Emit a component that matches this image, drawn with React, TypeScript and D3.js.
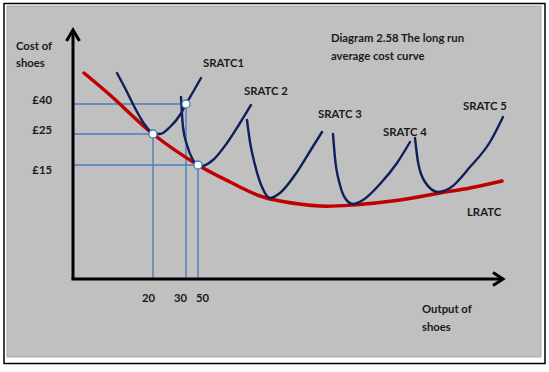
import React from "react";
import * as d3 from "d3";

// Schematic data (output units on x, cost units on y)
const lratcX = [2.2, 7.4, 16, 25, 31.4, 37.4, 41.4, 49.4, 56, 65.4, 73.4, 79.4, 85.8];
const lratcY = [82.4, 73.6, 58, 45.6, 38.8, 33.2, 31.2, 29.2, 29.6, 31.6, 34.4, 36.4, 39.2];

const sratc1X = [8.8, 10.6, 12.4, 14.4, 16, 17.4, 19.4, 21.4, 22.6, 24, 25.6];
const sratc1Y = [82.4, 75.6, 68.4, 61.6, 58.2, 58, 60.8, 65.6, 70, 74.8, 80.4];
const sratc2X = [21.6, 22, 22.8, 24, 25.4, 28, 30.8, 33.4, 35.6];
const sratc2Y = [72.8, 60.8, 53.6, 47.6, 45, 47.6, 54.4, 62.4, 69.6];
const sratc3X = [34.8, 35.4, 36.4, 37.8, 39.4, 41.4, 44.8, 47.8, 49.8];
const sratc3Y = [63.6, 54.8, 45.6, 36.8, 32.4, 34.4, 42.8, 52.4, 58.8];
const sratc4X = [52, 52.4, 53.4, 54.4, 56, 58, 61.4, 64.8, 67.4];
const sratc4Y = [58, 48.4, 37.6, 32.4, 30, 31.6, 38, 46.4, 54.8];
const sratc5X = [68.4, 69, 70.4, 73, 75.4, 79.4, 83.4, 86];
const sratc5Y = [56.4, 46.8, 38.8, 34.8, 36.4, 44.8, 54.8, 64.8];

// guide points
const pointX = [16, 22.6, 25];
const pointY = [58, 70, 45.6];
const xTickLabels = ["20", "30", "50"];
const yTickLabels = ["£25", "£40", "£15"];

const sratcLabels = ["SRATC1", "SRATC 2", "SRATC 3", "SRATC 4", "SRATC 5"];

const W = 549;
const H = 372;
const FONT = "Lato, 'Open Sans', sans-serif";

export default function App() {
  const x = d3.scaleLinear().domain([0, 86]).range([73, 503]);
  const y = d3.scaleLinear().domain([0, 100]).range([279, 29]);

  const smooth = d3
    .line<[number, number]>()
    .x((d) => x(d[0]))
    .y((d) => y(d[1]))
    .curve(d3.curveMonotoneX);
  const lrLine = d3
    .line<[number, number]>()
    .x((d) => x(d[0]))
    .y((d) => y(d[1]))
    .curve(d3.curveCatmullRom.alpha(0.5));

  const zip = (xs: number[], ys: number[]) => xs.map((v, i) => [v, ys[i]] as [number, number]);
  const srs = [
    zip(sratc1X, sratc1Y),
    zip(sratc2X, sratc2Y),
    zip(sratc3X, sratc3Y),
    zip(sratc4X, sratc4Y),
    zip(sratc5X, sratc5Y),
  ];
  const lratc = zip(lratcX, lratcY);

  const x0 = x(0);
  const y0 = y(0);
  const blue = "#4a7ebb";
  const navy = "#0e1f5b";
  const red = "#c00000";

  // label positions (annotation offsets)
  const sLabelPos = [
    [203, 63],
    [244, 91],
    [318, 114],
    [383, 132],
    [463, 106],
  ];
  const yLabelDy = [-4, -4, 5];
  const xLabelPos: Array<{ anchor: string; dx: number }> = [
    { anchor: "end", dx: 2 },
    { anchor: "end", dx: 1 },
    { anchor: "start", dx: -2 },
  ];

  const textStyle = { fontFamily: FONT, fontWeight: 700, fontSize: 11.3, fill: "#1a1a1a" } as const;

  return (
    <svg
      width={W}
      height={H}
      style={{ position: "absolute", left: 0, top: 0, background: "#fff" }}
    >
      <rect x={4} y={3.5} width={541} height={360} fill="#fff" stroke="#000" strokeWidth={1.5} />
      <rect x={7} y={6} width={534} height={351} fill="#c0c0c0" stroke="#a9a9a9" strokeWidth={1} />

      {/* guide lines */}
      {pointX.map((px, i) => (
        <g key={"g" + i}>
          <line x1={x0} x2={x(px)} y1={y(pointY[i])} y2={y(pointY[i])} stroke={blue} strokeWidth={1.4} />
          <line x1={x(px)} x2={x(px)} y1={y(pointY[i])} y2={y0} stroke={blue} strokeWidth={1.4} />
        </g>
      ))}

      {/* LRATC */}
      <path d={lrLine(lratc) || ""} fill="none" stroke={red} strokeWidth={3.5} strokeLinecap="round" />

      {/* SRATC curves */}
      {srs.map((s, i) => (
        <path key={"s" + i} d={smooth(s) || ""} fill="none" stroke={navy} strokeWidth={2.4} strokeLinecap="round" />
      ))}

      {/* dots */}
      {pointX.map((px, i) => (
        <circle key={"c" + i} cx={x(px)} cy={y(pointY[i])} r={4} fill="#fff" stroke={blue} strokeWidth={1.3} />
      ))}

      {/* axes */}
      <line x1={x0} y1={y0} x2={x0} y2={31} stroke="#000" strokeWidth={3} />
      <line x1={x0 - 1.5} y1={y0} x2={502} y2={y0} stroke="#000" strokeWidth={3} />
      <polyline points={`${x0 - 6.5},41 ${x0},30 ${x0 + 6.5},41`} fill="none" stroke="#000" strokeWidth={3} strokeLinejoin="miter" />
      <polyline points={`493,${y0 - 6.5} 503,${y0} 493,${y0 + 6.5}`} fill="none" stroke="#000" strokeWidth={3} strokeLinejoin="miter" />

      {/* y tick labels */}
      {yTickLabels.map((t, i) => (
        <text key={"yt" + i} x={52} y={y(pointY[i]) + yLabelDy[i]} dy="0.35em" textAnchor="end" style={textStyle}>
          {t}
        </text>
      ))}
      {/* x tick labels */}
      {xTickLabels.map((t, i) => (
        <text key={"xt" + i} x={x(pointX[i]) + xLabelPos[i].dx} y={298} dy="0.35em" textAnchor={xLabelPos[i].anchor} style={textStyle}>
          {t}
        </text>
      ))}

      {/* axis titles */}
      <text x={16} y={46} dy="0.35em" style={textStyle}>Cost of</text>
      <text x={16} y={63} dy="0.35em" style={textStyle}>shoes</text>
      <text x={422} y={309} dy="0.35em" style={textStyle}>Output of</text>
      <text x={422} y={327} dy="0.35em" style={textStyle}>shoes</text>

      {/* title */}
      <text x={331} y={38} dy="0.35em" style={textStyle}>Diagram 2.58 The long run</text>
      <text x={331} y={56} dy="0.35em" style={textStyle}>average cost curve</text>

      {/* curve labels */}
      {sratcLabels.map((t, i) => (
        <text key={"sl" + i} x={sLabelPos[i][0]} y={sLabelPos[i][1]} dy="0.35em" style={textStyle}>
          {t}
        </text>
      ))}
      <text x={467} y={212} dy="0.35em" style={textStyle}>LRATC</text>
    </svg>
  );
}
